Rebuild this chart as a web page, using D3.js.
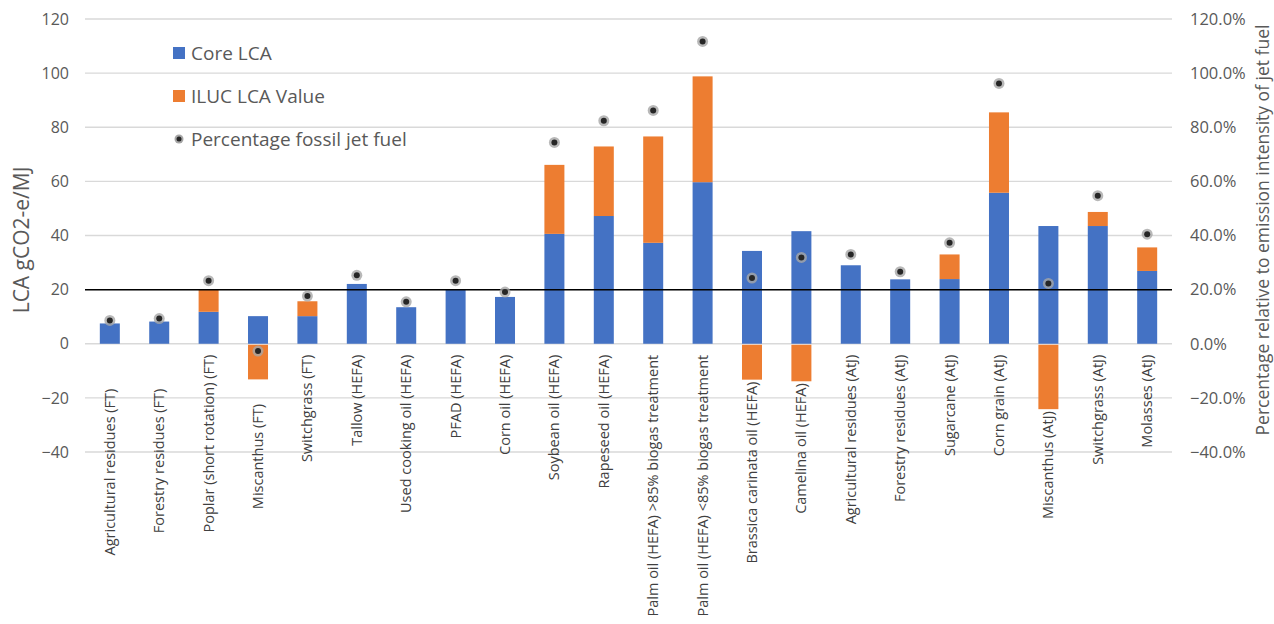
<!DOCTYPE html>
<html>
<head>
<meta charset="utf-8">
<script src="https://cdn.jsdelivr.net/npm/d3@7"></script>
<style>
  body { margin: 0; background: #fff; }
  text { font-family: "Open Sans", "Noto Sans", sans-serif; }
</style>
</head>
<body>
<div id="chart"></div>
<script>
// category names as they appear in the source sheet (some carry trailing blanks)
var categories = [
  "Agricultural residues (FT)         ", "Forestry residues (FT)         ", "Poplar (short rotation) (FT)",
  "Miscanthus (FT)      ", "Switchgrass (FT)", "Tallow (HEFA)", "Used cooking oil (HEFA)",
  "PFAD (HEFA)", "Corn oil (HEFA)", "Soybean oil (HEFA)", "Rapeseed oil (HEFA)",
  "Palm oil (HEFA) >85% biogas treatment", "Palm oil (HEFA) <85% biogas treatment",
  "Brassica carinata oil (HEFA)", "Camelina oil (HEFA)", "Agricultural residues (AtJ)",
  "Forestry residues (AtJ)", "Sugarcane (AtJ)", "Corn grain (AtJ)", "Miscanthus (AtJ)",
  "Switchgrass (AtJ)", "Molasses (AtJ)"
];
var coreLCA = [7.5, 8.2, 11.8, 10.2, 10.2, 22.1, 13.5, 20.2, 17.3, 40.6, 47.2, 37.3, 59.7,
  34.3, 41.6, 29.0, 23.8, 23.9, 55.8, 43.5, 43.5, 26.9];
var ilucLCA = [0, 0, 8.4, -12.8, 5.5, 0, 0, 0, 0, 25.5, 25.7, 39.3, 39.1,
  -12.9, -13.5, 0, 0, 9.1, 29.7, -23.8, 5.2, 8.7];
var pctFossil = [0.086, 0.093, 0.233, -0.027, 0.176, 0.253, 0.155, 0.233, 0.191, 0.744, 0.824,
  0.862, 1.117, 0.243, 0.319, 0.330, 0.266, 0.373, 0.962, 0.223, 0.547, 0.405];
var leftTicks = [-40, -20, 0, 20, 40, 60, 80, 100, 120];
var rightTicks = [-0.4, -0.2, 0, 0.2, 0.4, 0.6, 0.8, 1.0, 1.2];
var thresholdLine = 20;
var legendItems = ["Core LCA", "ILUC LCA Value", "Percentage fossil jet fuel"];

var width = 1274, height = 624;
var margin = { left: 85, right: 102, top: 19, bottom: 172 };
var blue = "#4472C4", orange = "#ED7D31";

var svg = d3.select("#chart").append("svg")
  .attr("width", width)
  .attr("height", height);

var x = d3.scaleBand()
  .domain(categories)
  .range([margin.left, width - margin.right])
  .paddingInner(0.595)
  .paddingOuter(0.3);

var y = d3.scaleLinear()
  .domain([-40, 120])
  .range([height - margin.bottom, margin.top]);

var y2 = d3.scaleLinear()
  .domain([-0.4, 1.2])
  .range([height - margin.bottom, margin.top]);

// gridlines
svg.append("g")
  .selectAll("line")
  .data(leftTicks)
  .enter().append("line")
  .attr("x1", margin.left)
  .attr("x2", width - margin.right)
  .attr("y1", function (d) { return y(d); })
  .attr("y2", function (d) { return y(d); })
  .attr("stroke", "#d9d9d9")
  .attr("stroke-width", 1.3);

// left axis
var leftAxis = svg.append("g")
  .attr("transform", "translate(" + margin.left + ",0)")
  .call(d3.axisLeft(y).tickValues(leftTicks).tickSize(0).tickPadding(16));
leftAxis.select(".domain").remove();
leftAxis.selectAll("text")
  .attr("fill", "#595959")
  .style("font-size", "16px")
  .style("font-family", "Open Sans");

// right axis
var rightAxis = svg.append("g")
  .attr("transform", "translate(" + (width - margin.right) + ",0)")
  .call(d3.axisRight(y2).tickValues(rightTicks).tickSize(0).tickPadding(18)
    .tickFormat(d3.format(".1%")));
rightAxis.select(".domain").remove();
rightAxis.selectAll("text")
  .attr("fill", "#595959")
  .style("font-size", "16.5px")
  .style("font-family", "Open Sans");

// core bars
svg.append("g")
  .selectAll("rect")
  .data(categories)
  .enter().append("rect")
  .attr("x", function (d) { return x(d); })
  .attr("width", x.bandwidth())
  .attr("y", function (d, i) { return y(coreLCA[i]); })
  .attr("height", function (d, i) { return y(0) - y(coreLCA[i]); })
  .attr("fill", blue);

// iluc bars (stacked on top when positive, below zero when negative)
svg.append("g")
  .selectAll("rect")
  .data(categories)
  .enter().append("rect")
  .attr("x", function (d) { return x(d); })
  .attr("width", x.bandwidth())
  .attr("y", function (d, i) {
    var v = ilucLCA[i];
    return v >= 0 ? y(coreLCA[i] + v) : y(0) + 1;
  })
  .attr("height", function (d, i) {
    var v = ilucLCA[i];
    return v >= 0 ? y(coreLCA[i]) - y(coreLCA[i] + v) : y(v) - y(0);
  })
  .attr("fill", orange);

// threshold line
svg.append("line")
  .attr("x1", margin.left)
  .attr("x2", width - margin.right)
  .attr("y1", y(thresholdLine))
  .attr("y2", y(thresholdLine))
  .attr("stroke", "#000")
  .attr("stroke-width", 1.5);

// dots
var dots = svg.append("g")
  .selectAll("g")
  .data(categories)
  .enter().append("g")
  .attr("transform", function (d, i) {
    return "translate(" + (x(d) + x.bandwidth() / 2) + "," + y2(pctFossil[i]) + ")";
  });
dots.append("circle").attr("r", 5.5).attr("fill", "#a6a6a6").attr("opacity", 0.8);
dots.append("circle").attr("r", 3).attr("fill", "#262626");

// category labels, pushed below any negative bar
svg.append("g")
  .selectAll("text")
  .data(categories)
  .enter().append("text")
  .attr("transform", function (d, i) {
    var top = Math.max(y(0) + 11, y(Math.min(0, ilucLCA[i])) + 3);
    return "translate(" + (x(d) + x.bandwidth() / 2 + 5) + "," + top + ") rotate(-90)";
  })
  .attr("text-anchor", "end")
  .attr("fill", "#404040")
  .style("font-size", "14.5px")
  .style("white-space", "pre")
  .text(function (d) { return d; });

// axis titles
svg.append("text")
  .attr("transform", "translate(29,240) rotate(-90)")
  .attr("text-anchor", "middle")
  .attr("fill", "#595959")
  .style("font-size", "21px")
  .text("LCA gCO2-e/MJ");

svg.append("text")
  .attr("transform", "translate(1269,230) rotate(-90)")
  .attr("text-anchor", "middle")
  .attr("fill", "#595959")
  .style("font-size", "17.5px")
  .text("Percentage relative to emission intensity of jet fuel");

// legend
var legend = svg.append("g")
  .selectAll("g")
  .data(legendItems)
  .enter().append("g")
  .attr("transform", function (d, i) { return "translate(173," + (53 + i * 43) + ")"; });
legend.each(function (d, i) {
  var g = d3.select(this);
  if (i < 2) {
    g.append("rect").attr("x", 0).attr("y", -6).attr("width", 12).attr("height", 12)
      .attr("fill", i === 0 ? blue : orange);
  } else {
    g.append("circle").attr("cx", 6).attr("r", 4.5).attr("fill", "#a6a6a6");
    g.append("circle").attr("cx", 6).attr("r", 2.5).attr("fill", "#262626");
  }
  g.append("text").attr("x", 18).attr("dy", "0.35em")
    .attr("fill", "#595959")
    .style("font-size", "19px")
    .text(d);
});
</script>
</body>
</html>
